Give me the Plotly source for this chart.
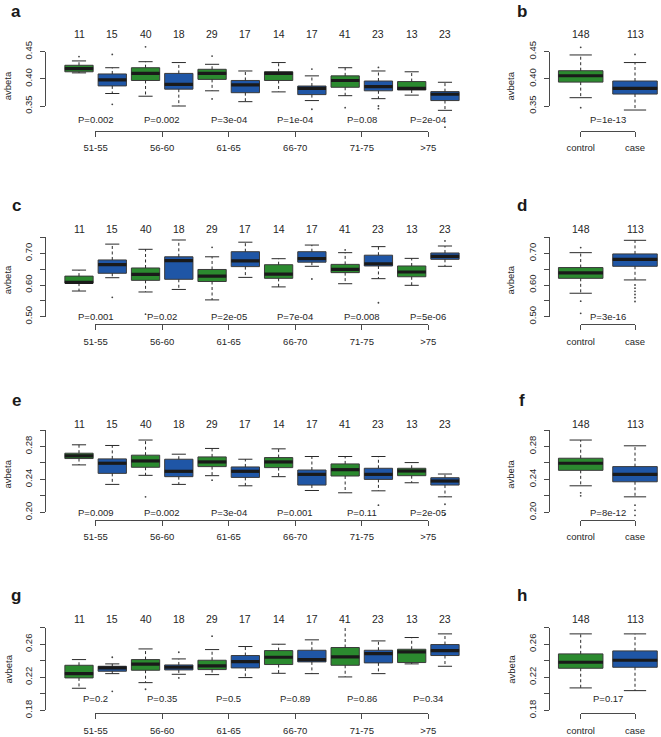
import plotly.graph_objects as go

W, H = 661, 737

# ---------------- data ----------------
age_groups = ["51-55", "56-60", "61-65", "66-70", "71-75", ">75"]
status_groups = ["control", "case"]
age_counts = [11, 15, 40, 18, 29, 17, 14, 17, 41, 23, 13, 23]
total_counts = [148, 113]

# panel a (boxes alternate control / case within each age group)
a_low = [0.411, 0.373, 0.368, 0.350, 0.378, 0.358, 0.376, 0.360, 0.369, 0.3635, 0.370, 0.342]
a_q1 = [0.413, 0.387, 0.397, 0.381, 0.399, 0.3745, 0.397, 0.371, 0.3845, 0.378, 0.3795, 0.360]
a_med = [0.419, 0.398, 0.410, 0.390, 0.410, 0.389, 0.410, 0.3826, 0.397, 0.3856, 0.3826, 0.3716]
a_q3 = [0.425, 0.409, 0.4205, 0.410, 0.4176, 0.397, 0.413, 0.3868, 0.4055, 0.396, 0.395, 0.3765]
a_up = [0.433, 0.4205, 0.4316, 0.430, 0.4268, 0.4145, 0.430, 0.4055, 0.4205, 0.4145, 0.413, 0.3937]
a_out = [[0.441], [0.445, 0.353], [0.459], [], [0.442, 0.363], [], [], [0.418, 0.344], [0.347],
         [0.421, 0.350, 0.345], [], [0.311]]
a_pvals = ["P=0.002", "P=0.002", "P=3e-04", "P=1e-04", "P=0.08", "P=2e-04"]

b_low = [0.3653, 0.3426]
b_q1 = [0.394, 0.372]
b_med = [0.4057, 0.3826]
b_q3 = [0.415, 0.396]
b_up = [0.444, 0.430]
b_out = [[0.458, 0.347], [0.445]]
b_pvals = ["P=1e-13"]

c_low = [0.581, 0.623, 0.578, 0.586, 0.553, 0.624, 0.594, 0.659, 0.604, 0.620, 0.599, 0.659]
c_q1 = [0.606, 0.637, 0.6147, 0.618, 0.611, 0.658, 0.621, 0.672, 0.639, 0.660, 0.626, 0.681]
c_med = [0.6084, 0.664, 0.6337, 0.677, 0.628, 0.676, 0.634, 0.683, 0.649, 0.667, 0.641, 0.6905]
c_q3 = [0.628, 0.679, 0.6537, 0.689, 0.649, 0.705, 0.664, 0.705, 0.665, 0.694, 0.660, 0.701]
c_up = [0.647, 0.729, 0.7126, 0.742, 0.689, 0.735, 0.683, 0.726, 0.702, 0.721, 0.684, 0.723]
c_out = [[], [0.561], [0.508], [], [0.719], [], [], [0.619], [0.7105], [0.544], [], [0.739]]
c_pvals = ["P=0.001", "P=0.02", "P=2e-05", "P=7e-04", "P=0.008", "P=5e-06"]

d_low = [0.574, 0.616]
d_q1 = [0.621, 0.659]
d_med = [0.638, 0.681]
d_q3 = [0.655, 0.698]
d_up = [0.702, 0.741]
d_out = [[0.718, 0.549, 0.5105], [0.600, 0.590, 0.580, 0.570, 0.560, 0.548]]
d_pvals = ["P=3e-16"]

e_low = [0.2576, 0.2339, 0.2449, 0.2339, 0.2445, 0.2322, 0.2433, 0.2265, 0.2237, 0.2261, 0.2359, 0.2188]
e_q1 = [0.2653, 0.2473, 0.2547, 0.2433, 0.2555, 0.2424, 0.2543, 0.2331, 0.2441, 0.2400, 0.2445, 0.2331]
e_med = [0.2686, 0.2596, 0.2624, 0.2498, 0.2612, 0.2498, 0.2612, 0.2461, 0.2518, 0.2461, 0.2502, 0.2380]
e_q3 = [0.2718, 0.2649, 0.2694, 0.2645, 0.2673, 0.2551, 0.2665, 0.2514, 0.2588, 0.2535, 0.2535, 0.2420]
e_up = [0.2820, 0.2812, 0.2878, 0.2706, 0.2776, 0.2645, 0.2771, 0.2678, 0.2678, 0.2678, 0.2604, 0.2465]
e_out = [[], [], [0.2188], [], [0.2390], [], [], [], [], [0.2086], [], [0.2098, 0.1975]]
e_pvals = ["P=0.009", "P=0.002", "P=3e-04", "P=0.001", "P=0.11", "P=2e-05"]

f_low = [0.2322, 0.2188]
f_q1 = [0.2510, 0.2371]
f_med = [0.2596, 0.2461]
f_q3 = [0.2657, 0.2555]
f_up = [0.2878, 0.2808]
f_out = [[0.2237, 0.2200], [0.2086, 0.2024, 0.1963]]
f_pvals = ["P=8e-12"]

g_low = [0.2067, 0.2244, 0.2135, 0.2236, 0.2232, 0.2196, 0.2248, 0.2244, 0.2204, 0.2244, 0.2362, 0.2333]
g_q1 = [0.2192, 0.2273, 0.2285, 0.2289, 0.2293, 0.2313, 0.2354, 0.2386, 0.2345, 0.2374, 0.2378, 0.2463]
g_med = [0.2244, 0.2313, 0.2358, 0.2321, 0.2337, 0.2390, 0.2442, 0.2414, 0.2446, 0.2487, 0.2507, 0.2523]
g_q3 = [0.2345, 0.2333, 0.2414, 0.2349, 0.2406, 0.2463, 0.2523, 0.2527, 0.2560, 0.2527, 0.2539, 0.2596]
g_up = [0.2414, 0.2362, 0.2543, 0.2422, 0.2535, 0.2572, 0.2600, 0.2653, 0.2822, 0.2640, 0.2681, 0.2725]
g_out = [[], [0.2442, 0.2030], [0.2055], [0.2503, 0.2192], [0.2697], [], [], [], [], [], [], []]
g_pvals = ["P=0.2", "P=0.35", "P=0.5", "P=0.89", "P=0.86", "P=0.34"]

h_low = [0.2071, 0.2038]
h_q1 = [0.2309, 0.2321]
h_med = [0.2382, 0.2406]
h_q3 = [0.2483, 0.2519]
h_up = [0.2725, 0.2725]
h_out = [[0.2802], []]
h_pvals = ["P=0.17"]

# y-axis ticks per row
row_ticks = [
    [0.35, 0.40, 0.45],
    [0.50, 0.55, 0.60, 0.65, 0.70, 0.75],
    [0.20, 0.22, 0.24, 0.26, 0.28, 0.30],
    [0.18, 0.20, 0.22, 0.24, 0.26, 0.28],
]
row_ticktext = [
    ["0.35", "0.40", "0.45"],
    ["0.50", "", "0.60", "", "0.70", ""],
    ["0.20", "", "0.24", "", "0.28", ""],
    ["0.18", "", "0.22", "", "0.26", ""],
]

# ---------------- layout geometry (pixels) ----------------
GREEN = "#2b8a2f"
BLUE = "#1f56a6"
TXT = "#262626"
AX = "#4a4a4a"
FONT = "Liberation Sans, Arial, sans-serif"
CLEAR = "rgba(0,0,0,0)"

# per row: value->pixel  py = p0 - (v - v0) * k
rows = [
    dict(v0=0.35, p0=106.0, k=543.0, count_y=34.0, p_y=119.0, line_y=130.7, ylab_y=85.8, letter_y=11.0),
    dict(v0=0.50, p0=316.7, k=317.0, count_y=229.3, p_y=316.7, line_y=324.3, ylab_y=279.7, letter_y=205.7),
    dict(v0=0.20, p0=512.3, k=823.0, count_y=424.0, p_y=512.3, line_y=520.0, ylab_y=474.0, letter_y=400.0),
    dict(v0=0.18, p0=710.3, k=826.0, count_y=618.7, p_y=698.3, line_y=713.3, ylab_y=669.0, letter_y=595.0),
]
# per column: x->pixel  px = c0 + (x - 1) * s
cols = [
    dict(c0=79.0, s=33.27, axis_x=45.0, right=478.0, ylab_x=7.5, letter_x=16.0, boxw=0.85),
    dict(c0=580.7, s=54.3, axis_x=549.0, right=661.0, ylab_x=510.7, letter_x=522.0, boxw=0.82),
]

panels = [
    ("a", 0, 0, a_low, a_q1, a_med, a_q3, a_up, a_out, a_pvals),
    ("b", 0, 1, b_low, b_q1, b_med, b_q3, b_up, b_out, b_pvals),
    ("c", 1, 0, c_low, c_q1, c_med, c_q3, c_up, c_out, c_pvals),
    ("d", 1, 1, d_low, d_q1, d_med, d_q3, d_up, d_out, d_pvals),
    ("e", 2, 0, e_low, e_q1, e_med, e_q3, e_up, e_out, e_pvals),
    ("f", 2, 1, f_low, f_q1, f_med, f_q3, f_up, f_out, f_pvals),
    ("g", 3, 0, g_low, g_q1, g_med, g_q3, g_up, g_out, g_pvals),
    ("h", 3, 1, h_low, h_q1, h_med, h_q3, h_up, h_out, h_pvals),
]


def fx(px):
    return px / W


def fy(py):
    return 1 - py / H


def axname(letter, n):
    return letter if n == 1 else f"{letter}{n}"


def laykey(letter, n):
    return f"{letter}axis" if n == 1 else f"{letter}axis{n}"


fig = go.Figure()
annotations = []
layout_axes = {}

for pi, (letter, ri, ci, low, q1, med, q3, up, outs, pvals) in enumerate(panels):
    R = rows[ri]
    C = cols[ci]
    nD = 2 * pi + 1
    nT = 2 * pi + 2
    xD, yD, xT, yT = axname("x", nD), axname("y", nD), axname("x", nT), axname("y", nT)

    def px2x(px, C=C):
        return 1 + (px - C["c0"]) / C["s"]

    def x2px(x, C=C):
        return C["c0"] + (x - 1) * C["s"]

    def py2v(py, R=R):
        return R["v0"] + (R["p0"] - py) / R["k"]

    def v2py(v, R=R):
        return R["p0"] - (v - R["v0"]) * R["k"]

    nbox = len(med)
    xs = list(range(1, nbox + 1))
    bw = C["boxw"]

    # data axes
    top_px = R["count_y"] + 9
    bot_px = R["line_y"] - 2
    layout_axes[laykey("x", nD)] = dict(domain=[fx(C["axis_x"]), fx(C["right"])],
                                        range=[px2x(C["axis_x"]), px2x(C["right"])],
                                        visible=False, anchor=yD, fixedrange=True,
                                        automargin=False)
    layout_axes[laykey("y", nD)] = dict(domain=[fy(bot_px), fy(top_px)],
                                        range=[py2v(bot_px), py2v(top_px)],
                                        visible=False, anchor=xD, fixedrange=True,
                                        automargin=False)

    # visible y axis (only spans the tick range)
    ticks = row_ticks[ri]
    eps_v = 0.15 / R["k"]
    vlo, vhi = ticks[0] - eps_v, ticks[-1] + eps_v
    layout_axes[laykey("y", nT)] = dict(
        domain=[fy(v2py(vlo)), fy(v2py(vhi))], range=[vlo, vhi],
        anchor="free", position=fx(C["axis_x"]), side="left",
        showline=True, linecolor=AX, linewidth=1,
        ticks="outside", ticklen=5, tickcolor=AX, tickwidth=1,
        tickvals=ticks, ticktext=row_ticktext[ri], tickangle=-90,
        tickfont=dict(family=FONT, size=9.5, color=TXT),
        ticklabelstandoff=4, automargin=False,
        showgrid=False, zeroline=False, fixedrange=True)

    # visible x axis (group labels)
    if nbox == 12:
        tvals = [2 * g + 1.5 for g in range(6)]
        ttext = age_groups
    else:
        tvals = [1, 2]
        ttext = status_groups
    eps_x = 0.15 / C["s"]
    xlo, xhi = tvals[0] - eps_x, tvals[-1] + eps_x
    layout_axes[laykey("x", nT)] = dict(
        domain=[fx(x2px(xlo)), fx(x2px(xhi))], range=[xlo, xhi],
        anchor="free", position=fy(R["line_y"]), side="bottom",
        showline=True, linecolor=AX, linewidth=1,
        ticks="outside", ticklen=5, tickcolor=AX, tickwidth=1,
        tickvals=tvals, ticktext=ttext,
        tickfont=dict(family=FONT, size=9.5, color=TXT),
        ticklabelstandoff=3, automargin=False,
        showgrid=False, zeroline=False, fixedrange=True)

    # boxes
    for grp, color in ((0, GREEN), (1, BLUE)):
        idx = [i for i in range(nbox) if i % 2 == grp]
        fig.add_trace(go.Box(
            x=[xs[i] for i in idx],
            q1=[q1[i] for i in idx], median=[med[i] for i in idx], q3=[q3[i] for i in idx],
            lowerfence=[q1[i] for i in idx], upperfence=[q3[i] for i in idx],
            width=bw, whiskerwidth=0, fillcolor=color,
            line=dict(color="#3a3a3a", width=1), boxpoints=False,
            xaxis=xD, yaxis=yD, showlegend=False, hoverinfo="skip"))

    # whiskers (dashed)
    wx, wy = [], []
    for i in range(nbox):
        wx += [xs[i], xs[i], None, xs[i], xs[i], None]
        wy += [q3[i], up[i], None, q1[i], low[i], None]
    fig.add_trace(go.Scatter(x=wx, y=wy, mode="lines", xaxis=xD, yaxis=yD,
                             line=dict(color="#2a2a2a", width=1, dash="3px,2.5px"),
                             showlegend=False, hoverinfo="skip"))
    # staples
    sx, sy = [], []
    half = bw * 0.25
    for i in range(nbox):
        sx += [xs[i] - half, xs[i] + half, None, xs[i] - half, xs[i] + half, None]
        sy += [up[i], up[i], None, low[i], low[i], None]
    fig.add_trace(go.Scatter(x=sx, y=sy, mode="lines", xaxis=xD, yaxis=yD,
                             line=dict(color="#2a2a2a", width=1),
                             showlegend=False, hoverinfo="skip"))
    # medians
    mx, my = [], []
    for i in range(nbox):
        mx += [xs[i] - bw / 2, xs[i] + bw / 2, None]
        my += [med[i], med[i], None]
    fig.add_trace(go.Scatter(x=mx, y=my, mode="lines", xaxis=xD, yaxis=yD,
                             line=dict(color="#1a1a1a", width=3.2),
                             showlegend=False, hoverinfo="skip"))
    # outliers
    ox, oy = [], []
    for i in range(nbox):
        for v in outs[i]:
            ox.append(xs[i])
            oy.append(v)
    if ox:
        fig.add_trace(go.Scatter(x=ox, y=oy, mode="markers", xaxis=xD, yaxis=yD,
                                 marker=dict(color="#444444", size=1.8, line=dict(width=0)),
                                 cliponaxis=False, showlegend=False, hoverinfo="skip"))

    # dummy invisible traces to register the decorative axes
    fig.add_trace(go.Scatter(x=[1], y=[ticks[0]], xaxis=xD, yaxis=yT, mode="markers",
                             marker=dict(opacity=0), showlegend=False, hoverinfo="skip"))
    fig.add_trace(go.Scatter(x=[tvals[0]], y=[py2v(bot_px)], xaxis=xT, yaxis=yD, mode="markers",
                             marker=dict(opacity=0), showlegend=False, hoverinfo="skip"))

    # counts on top
    counts = age_counts if nbox == 12 else total_counts
    for i in range(nbox):
        annotations.append(dict(x=xs[i], xref=xD, y=fy(R["count_y"]), yref="paper",
                                text=str(counts[i]), showarrow=False,
                                font=dict(family=FONT, size=10.5, color=TXT),
                                xanchor="center", yanchor="middle"))
    # p-values
    pxs = tvals if nbox == 12 else [1.5]
    for j, t in enumerate(pvals):
        annotations.append(dict(x=pxs[j], xref=xD, y=fy(R["p_y"]), yref="paper",
                                text=t, showarrow=False,
                                font=dict(family=FONT, size=9.5, color=TXT),
                                xanchor="center", yanchor="middle"))
    # y label
    annotations.append(dict(x=fx(C["ylab_x"]), xref="paper", y=fy(R["ylab_y"]), yref="paper",
                            text="avbeta", textangle=-90, showarrow=False,
                            font=dict(family=FONT, size=9.5, color=TXT),
                            xanchor="center", yanchor="middle"))
    # panel letter
    annotations.append(dict(x=fx(C["letter_x"]), xref="paper", y=fy(R["letter_y"]), yref="paper",
                            text=f"<b>{letter}</b>", showarrow=False,
                            font=dict(family=FONT, size=17, color="#1a1a1a"),
                            xanchor="center", yanchor="middle"))

fig.update_layout(
    width=W, height=H, autosize=False,
    margin=dict(l=0, r=0, t=0, b=0, pad=0, autoexpand=False),
    paper_bgcolor="white", plot_bgcolor=CLEAR,
    boxmode="overlay", showlegend=False,
    annotations=annotations,
    **layout_axes,
)

fig.write_html("out.html")
